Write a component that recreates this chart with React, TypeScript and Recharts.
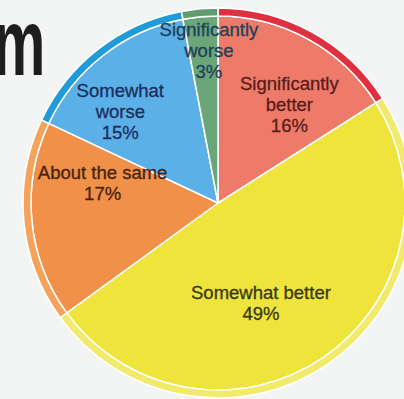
import { Pie, PieChart, Cell } from "recharts";

const categories = [
  "Significantly better",
  "Somewhat better",
  "About the same",
  "Somewhat worse",
  "Significantly worse",
];
const shares = [16, 49, 17, 15, 3];
const labelLines = [
  ["Significantly", "better", "16%"],
  ["Somewhat better", "49%"],
  ["About the same", "17%"],
  ["Somewhat", "worse", "15%"],
  ["Significantly", "worse", "3%"],
];

const fills = ["#ee7b69", "#eee43c", "#f19149", "#5cb0e8", "#6aa67a"];
const rims = ["#e0303f", "#f1ea6c", "#f5a25a", "#1f9bda", "#5f9d70"];
const inkColors = ["#5a1c1a", "#3a3814", "#4a220f", "#1c2e5c", "#203f5a"];

// where each label sits relative to its slice (radius, angle nudge)
const labelSpots = [
  { r: 122, da: -7 },
  { r: 109, da: -11 },
  { r: 117, da: -15 },
  { r: 134, da: 9 },
  { r: 153, da: -2 },
];

const data = categories.map((name, i) => ({ name, value: shares[i] }));
const RAD = Math.PI / 180;
const LINE_H = 21;

function SliceLabel(props: any) {
  const { cx, cy, midAngle, index } = props;
  const spot = labelSpots[index];
  const a = (midAngle + spot.da) * RAD;
  const x = cx + spot.r * Math.cos(a);
  const y = cy - spot.r * Math.sin(a);
  const lines = labelLines[index];
  const top = y - ((lines.length - 1) * LINE_H) / 2;
  return (
    <g>
      {lines.map((line, j) => (
        <text
          key={j}
          x={x}
          y={top + j * LINE_H}
          textAnchor="middle"
          dominantBaseline="central"
          fill={inkColors[index]}
          stroke={inkColors[index]}
          strokeWidth={0.3}
          style={{ fontFamily: "'Liberation Sans', Arial, sans-serif", fontSize: 18.5 }}
        >
          {line}
        </text>
      ))}
    </g>
  );
}

export default function App() {
  return (
    <div
      style={{
        position: "absolute",
        left: 0,
        top: 0,
        width: 404,
        height: 399,
        background: "#f3f5f4",
        overflow: "hidden",
      }}
    >
      <svg width={60} height={90} style={{ position: "absolute", left: 0, top: 0 }}>
        <g transform="translate(-7,75) scale(0.62,1)">
          <text
            x={0}
            y={0}
            fill="#1e1e1e"
            style={{ fontFamily: "'Liberation Sans', Arial, sans-serif", fontWeight: 700, fontSize: 95 }}
          >
            m
          </text>
        </g>
      </svg>
      <PieChart
        width={404}
        height={399}
        margin={{ top: 0, right: 0, bottom: 0, left: 0 }}
        style={{ position: "absolute", left: 0, top: 0 }}
      >
        <Pie
          data={data}
          dataKey="value"
          cx={218}
          cy={203}
          innerRadius={0}
          outerRadius={187}
          startAngle={90}
          endAngle={-270}
          stroke="#ffffff"
          strokeWidth={1.5}
          isAnimationActive={false}
        >
          {data.map((d, i) => (
            <Cell key={d.name} fill={fills[i]} />
          ))}
        </Pie>
        <Pie
          data={data}
          dataKey="value"
          cx={218}
          cy={203}
          innerRadius={187}
          outerRadius={195}
          startAngle={90}
          endAngle={-270}
          stroke="#ffffff"
          strokeWidth={1.5}
          label={SliceLabel}
          labelLine={false}
          isAnimationActive={false}
        >
          {data.map((d, i) => (
            <Cell key={d.name} fill={rims[i]} />
          ))}
        </Pie>
      </PieChart>
    </div>
  );
}
